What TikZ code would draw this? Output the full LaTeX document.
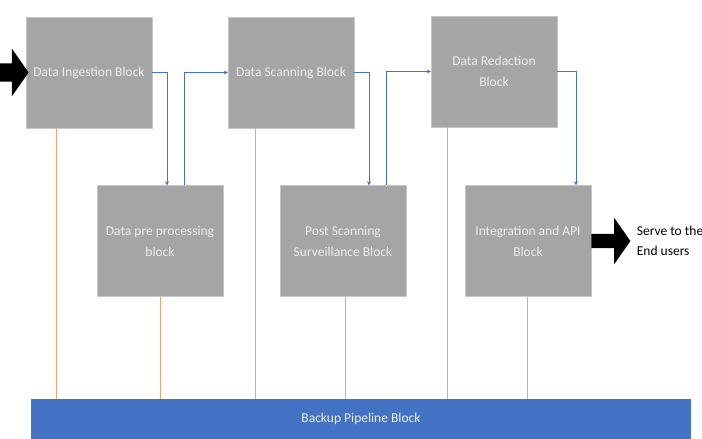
\documentclass[tikz,border=0pt]{standalone}
\usepackage{fontspec}
\setmainfont{Carlito}
\usetikzlibrary{arrows.meta,shapes.arrows}
\definecolor{blockgray}{HTML}{A5A5A5}
\definecolor{pipeblue}{HTML}{4472C4}
\definecolor{backorange}{HTML}{F2A571}
\begin{document}
\begin{tikzpicture}[x=1pt, y=-1pt,
    block/.style={fill=blockgray, draw=gray!45, text=white!93!black, minimum width=126pt, minimum height=111pt, align=center, inner sep=2pt, font=\fontsize{13.5}{21}\selectfont},
    pipe/.style={fill=pipeblue, text=white!90!pipeblue, minimum width=660pt, minimum height=40pt, inner sep=0pt, font=\fontsize{13.5}{21}\selectfont},
    flow/.style={draw=pipeblue, line width=0.8pt, -{Stealth[length=4pt,width=4pt]}},
    backup/.style={draw=backorange, line width=0.9pt},
    bigarrow/.style={single arrow, fill=black, inner xsep=0pt, single arrow tip angle=110}]
    \useasboundingbox (0,0) rectangle (702,439);
    % top row
    \node[block] at (89,72.5) (ingest) {Data Ingestion Block};
    \node[block] at (291,72.5) (scan) {Data Scanning Block};
    \node[block] at (494,71.5) (redact) {Data Redaction\\Block};
    % bottom row
    \node[block] at (160,241) (prep) {Data pre processing\\block};
    \node[block] at (343,241) (post) {Post Scanning\\Surveillance Block};
    \node[block] at (528,241) (integ) {Integration and API\\Block};
    \node[pipe] at (361,419) (store) {Backup Pipeline Block};
    % flow between blocks
    \draw[flow] (ingest.east) -| ([xshift=7]prep.north);
    \draw[flow] ([xshift=24]prep.north) |- (scan.west);
    \draw[flow] (scan.east) -| ([xshift=26]post.north);
    \draw[flow] ([xshift=43]post.north) |- (redact.west);
    \draw[flow] (redact.east) -| ([xshift=48]integ.north);
    % backup links
    \foreach \blk/\off in {ingest/-33, scan/-36, redact/-47, prep/0, post/2, integ/-1}
        \draw[backup] ([xshift=\off]\blk.south) -- ([xshift=\off]\blk.south |- store.north);
    % in and out
    \node[bigarrow, inner ysep=9pt, single arrow head extend=14.5pt, minimum height=30pt, anchor=tip] at ([xshift=3]ingest.west) (feed) {};
    \node[bigarrow, inner ysep=7pt, single arrow head extend=16pt, minimum height=39pt, anchor=tail] at (integ.east) (serve) {};
    \node[anchor=west, align=left, inner sep=0pt, font=\fontsize{13.5}{20}\selectfont] at ([xshift=6]serve.tip) (users) {Serve to the\\End users};
\end{tikzpicture}
\end{document}
